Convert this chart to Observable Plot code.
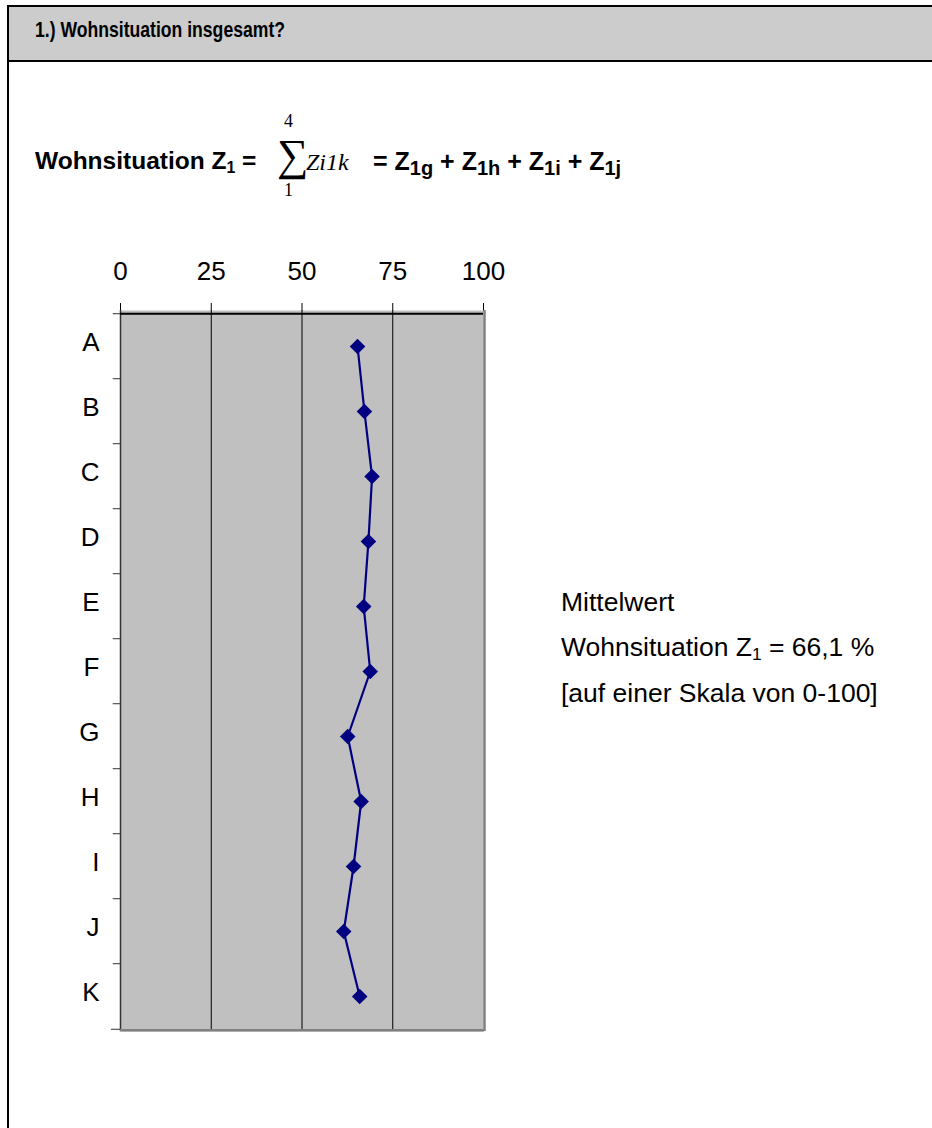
<!DOCTYPE html>
<html>
<head>
<meta charset="utf-8">
<script src="https://cdn.jsdelivr.net/npm/d3@7"></script>
<script src="https://cdn.jsdelivr.net/npm/@observablehq/plot@0.6"></script>
<style>
  html, body { margin: 0; padding: 0; background: #fff; width: 932px; height: 1128px; overflow: hidden; position: relative; font-family: "Liberation Sans", Arial, sans-serif; color: #000; }
  .abs { position: absolute; white-space: nowrap; line-height: 1; }
  sub { font-size: 0.65em; line-height: 0; vertical-align: -0.25em; }
  .big sub { font-size: 0.8em; }
  #header { position: absolute; left: 7px; top: 5px; width: 940px; height: 53px; border-top: 2px solid #000; border-left: 2px solid #000; border-bottom: 2px solid #000; background: #cccccc; }
  #leftline { position: absolute; left: 7px; top: 62px; width: 2px; height: 1070px; background: #000; }
  #chart { position: absolute; left: 0; top: 240px; }
</style>
</head>
<body>
<div id="header"></div>
<div id="leftline"></div>
<div id="chart"></div>
<script>
// ---- data ----
const categories = ["A", "B", "C", "D", "E", "F", "G", "H", "I", "J", "K"];
const values = [65.3, 67.2, 69.3, 68.3, 67.0, 68.8, 62.6, 66.3, 64.2, 61.5, 65.9];
const xTicks = [0, 25, 50, 75, 100];
const gridValues = [25, 50, 75];
const titleText = "1.) Wohnsituation insgesamt?";
const noteLines = ["Mittelwert", "Wohnsituation Z<sub>1</sub> = 66,1 %", "[auf einer Skala von 0-100]"];

const data = categories.map((c, i) => ({cat: c, value: values[i]}));

// ---- text helpers ----
function put(html, left, baseline, fs, extra = "", serif = false, cls = "") {
  const d = document.createElement("div");
  d.className = "abs " + cls;
  const k = serif ? 0.8375 : 0.8465;
  d.style.cssText = `left:${left}px;top:${baseline - k * fs}px;font-size:${fs}px;${extra}`;
  d.innerHTML = html;
  document.body.appendChild(d);
  return d;
}
const serifFont = "font-family:'Liberation Serif','Times New Roman',serif;";

put(titleText, 35, 37.5, 22, "font-weight:bold;transform:scaleX(0.8);transform-origin:0 50%;");

// formula
put("Wohnsituation Z<sub>1</sub> =", 35, 170, 24.5, "font-weight:bold;");
put("4", 284, 127.5, 18, serifFont, true);
put("\u2211", 277, 171, 44, serifFont, true);
put("1", 284, 196, 18, serifFont, true);
put("<i>Zi1k</i>", 306, 170, 24, serifFont, true);
put("= Z<sub>1g</sub> + Z<sub>1h</sub> + Z<sub>1i</sub> + Z<sub>1j</sub>", 373, 170, 25, "font-weight:bold;", false, "big");

// annotation
noteLines.forEach((t, i) => put(t, 561, 611 + i * 45.5, 26.5));

// ---- chart ----
const width = 520, height = 851;
const marginTop = 70, marginBottom = 60, marginLeft = 120, marginRight = 37;
const step = (height - marginTop - marginBottom) / categories.length;
const hasAxisMarks = typeof Plot.axisY === "function";

const chart = Plot.plot({
  width, height, marginTop, marginBottom, marginLeft, marginRight,
  style: {fontSize: "26px", fontFamily: "'Liberation Sans', Arial, sans-serif", background: "transparent", color: "#000", overflow: "visible"},
  x: {domain: [0, 100], axis: "top", ticks: xTicks, tickSize: 8, tickPadding: 23, label: null},
  y: hasAxisMarks
    ? {type: "point", domain: categories, padding: 0.5, axis: null}
    : {type: "point", domain: categories, padding: 0.5, axis: "left", tickSize: 0, tickPadding: 21, label: null},
  marks: [
    Plot.frame({fill: "#c0c0c0"}),
    Plot.ruleX(gridValues, {stroke: "#000", strokeWidth: 1}),
    Plot.ruleX([0], {stroke: "#333", strokeWidth: 1.5}),
    Plot.ruleX([100], {stroke: "#808080", strokeWidth: 2.5, dx: 1}),
    Plot.ruleY(categories, {y: d => d, dy: -step / 2, x1: -2, x2: 0, stroke: "#333", strokeWidth: 1}),
    Plot.ruleY([categories[categories.length - 1]], {y: d => d, dy: step / 2, x1: -2.5, x2: 0, stroke: "#333", strokeWidth: 1}),
    Plot.ruleY([categories[0]], {y: d => d, dy: -step / 2, x1: 0, x2: 100, stroke: "#000", strokeWidth: 2}),
    Plot.ruleY([categories[categories.length - 1]], {y: d => d, dy: step / 2 + 1, x1: 0, x2: 100.3, stroke: "#808080", strokeWidth: 2.5}),
    Plot.line(data, {x: "value", y: "cat", stroke: "#000080", strokeWidth: 2.2}),
    Plot.dot(data, {x: "value", y: "cat", symbol: "diamond2", r: 7, fill: "#000080", stroke: "none"}),
    ...(hasAxisMarks ? [Plot.axisY({anchor: "left", tickSize: 0, tickPadding: 21, dy: -4, label: null})] : [])
  ]
});
document.getElementById("chart").appendChild(chart);
</script>
</body>
</html>
